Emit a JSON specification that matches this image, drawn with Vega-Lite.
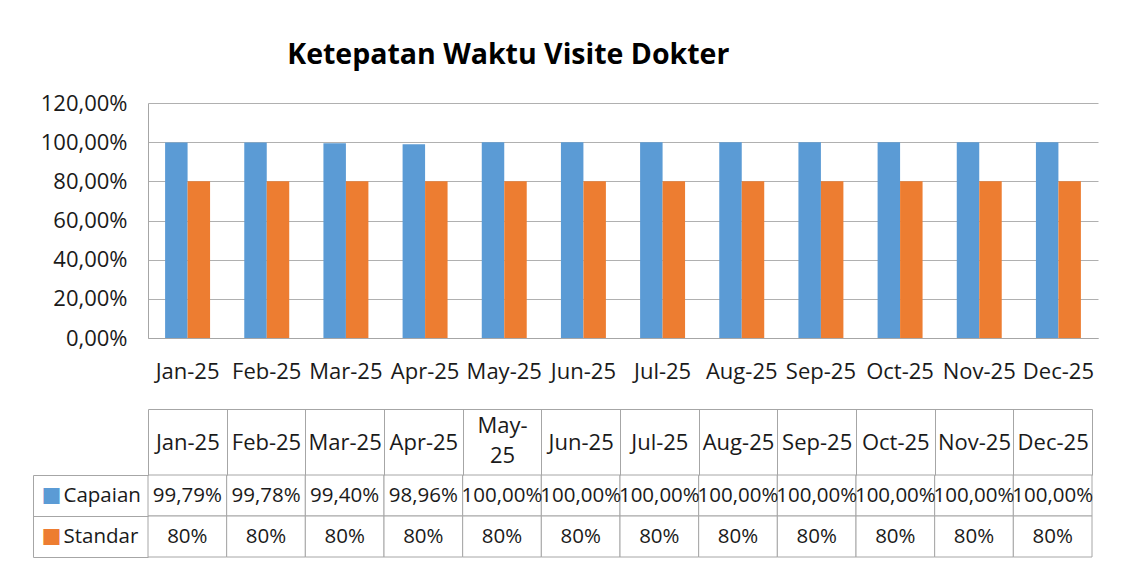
{
  "$schema": "https://vega.github.io/schema/vega-lite/v6.json",
  "background": "white",
  "padding": {"left": 32, "top": 40, "right": 10, "bottom": 5},
  "config": {
    "font": "Open Sans",
    "locale": {"number": {"decimal": ",", "thousands": ".", "grouping": [3], "currency": ["", ""]}},
    "view": {"stroke": null},
    "axis": {"labelFont": "Open Sans", "labelColor": "#1a1a1a", "labelFontSize": 22, "titleFont": "Open Sans"},
    "text": {"font": "Open Sans", "color": "#1a1a1a"}
  },
  "data": {"values": [
    {"month": "Jan-25", "series": "Capaian", "value": 0.9979},
    {"month": "Jan-25", "series": "Standar", "value": 0.8},
    {"month": "Feb-25", "series": "Capaian", "value": 0.9978},
    {"month": "Feb-25", "series": "Standar", "value": 0.8},
    {"month": "Mar-25", "series": "Capaian", "value": 0.994},
    {"month": "Mar-25", "series": "Standar", "value": 0.8},
    {"month": "Apr-25", "series": "Capaian", "value": 0.9896},
    {"month": "Apr-25", "series": "Standar", "value": 0.8},
    {"month": "May-25", "series": "Capaian", "value": 1.0},
    {"month": "May-25", "series": "Standar", "value": 0.8},
    {"month": "Jun-25", "series": "Capaian", "value": 1.0},
    {"month": "Jun-25", "series": "Standar", "value": 0.8},
    {"month": "Jul-25", "series": "Capaian", "value": 1.0},
    {"month": "Jul-25", "series": "Standar", "value": 0.8},
    {"month": "Aug-25", "series": "Capaian", "value": 1.0},
    {"month": "Aug-25", "series": "Standar", "value": 0.8},
    {"month": "Sep-25", "series": "Capaian", "value": 1.0},
    {"month": "Sep-25", "series": "Standar", "value": 0.8},
    {"month": "Oct-25", "series": "Capaian", "value": 1.0},
    {"month": "Oct-25", "series": "Standar", "value": 0.8},
    {"month": "Nov-25", "series": "Capaian", "value": 1.0},
    {"month": "Nov-25", "series": "Standar", "value": 0.8},
    {"month": "Dec-25", "series": "Capaian", "value": 1.0},
    {"month": "Dec-25", "series": "Standar", "value": 0.8}
  ]},
  "spacing": 26,
  "vconcat": [
    {
      "width": 950,
      "height": 235,
      "title": {"text": "Ketepatan Waktu Visite Dokter", "anchor": "start", "dx": 247, "fontSize": 28.5, "fontWeight": "bold", "font": "Open Sans", "color": "#000000", "baseline": "alphabetic", "offset": 0},
      "mark": {"type": "bar"},
      "encoding": {
        "x": {"field": "month", "type": "nominal", "sort": null,
          "scale": {"paddingInner": 0.432, "paddingOuter": 0.216},
          "axis": {"title": null, "labelAngle": 0, "ticks": false, "domain": true, "domainColor": "#a6a6a6", "labelPadding": 23}},
        "xOffset": {"field": "series", "type": "nominal", "sort": ["Capaian", "Standar"], "scale": {"paddingInner": 0, "paddingOuter": 0}},
        "y": {"field": "value", "type": "quantitative",
          "scale": {"domain": [0, 1.2], "nice": false},
          "axis": {"title": null, "values": [0, 0.2, 0.4, 0.6, 0.8, 1.0, 1.2], "format": ".2%", "gridColor": "#b0b0b0", "domain": true, "domainColor": "#a6a6a6", "ticks": false, "labelPadding": 21}},
        "color": {"field": "series", "type": "nominal", "scale": {"domain": ["Capaian", "Standar"], "range": ["#5b9bd5", "#ed7d31"]}, "legend": null}
      }
    },
    {
      "width": 944,
      "height": 82,
      "resolve": {"axis": {"x": "independent", "y": "independent"}},
      "layer": [
        {
          "mark": {"type": "rect", "fill": "white", "stroke": "#a6a6a6", "strokeWidth": 1},
          "encoding": {
            "x": {"field": "month", "type": "nominal", "sort": null, "scale": {"padding": 0},
              "axis": {"orient": "top", "title": null, "labelAngle": 0, "tickBand": "extent", "tickSize": 66, "tickColor": "#a6a6a6", "domain": false,
                "labelPadding": {"condition": {"test": "datum.value == 'May-25'", "value": -16}, "value": -33},
                "labelBaseline": "middle", "labelExpr": "datum.value == 'May-25' ? ['May-', '25'] : datum.value", "labelLineHeight": 30}},
            "y": {"field": "series", "type": "nominal", "sort": ["Capaian", "Standar"], "scale": {"padding": 0},
              "axis": {"orient": "left", "title": null, "tickBand": "extent", "tickSize": 115, "tickColor": "#a6a6a6", "domain": false, "labelAlign": "left", "labelPadding": -30, "labelFontSize": 20.5}}
          }
        },
        {
          "transform": [{"filter": "datum.series == 'Capaian'"}],
          "mark": {"type": "text", "fontSize": 20.5},
          "encoding": {
            "x": {"field": "month", "type": "nominal", "sort": null,
              "axis": {"orient": "top", "offset": 66, "domain": true, "domainColor": "#a6a6a6", "ticks": false, "labels": false, "title": null, "grid": false}},
            "y": {"field": "series", "type": "nominal", "sort": ["Capaian", "Standar"],
              "axis": {"orient": "left", "offset": 115, "domain": true, "domainColor": "#a6a6a6", "ticks": false, "title": null, "labelExpr": "'■'", "labelAlign": "left", "labelPadding": -8, "labelFontSize": 33,
                "labelColor": {"condition": {"test": "datum.value == 'Capaian'", "value": "#5b9bd5"}, "value": "#ed7d31"}}},
            "text": {"field": "value", "type": "quantitative", "format": ".2%"}
          }
        },
        {
          "transform": [{"filter": "datum.series == 'Standar'"}],
          "mark": {"type": "text", "fontSize": 20.5},
          "encoding": {
            "x": {"field": "month", "type": "nominal", "sort": null, "axis": null},
            "y": {"field": "series", "type": "nominal", "sort": ["Capaian", "Standar"], "axis": null},
            "text": {"field": "value", "type": "quantitative", "format": ".0%"}
          }
        }
      ]
    }
  ]
}
